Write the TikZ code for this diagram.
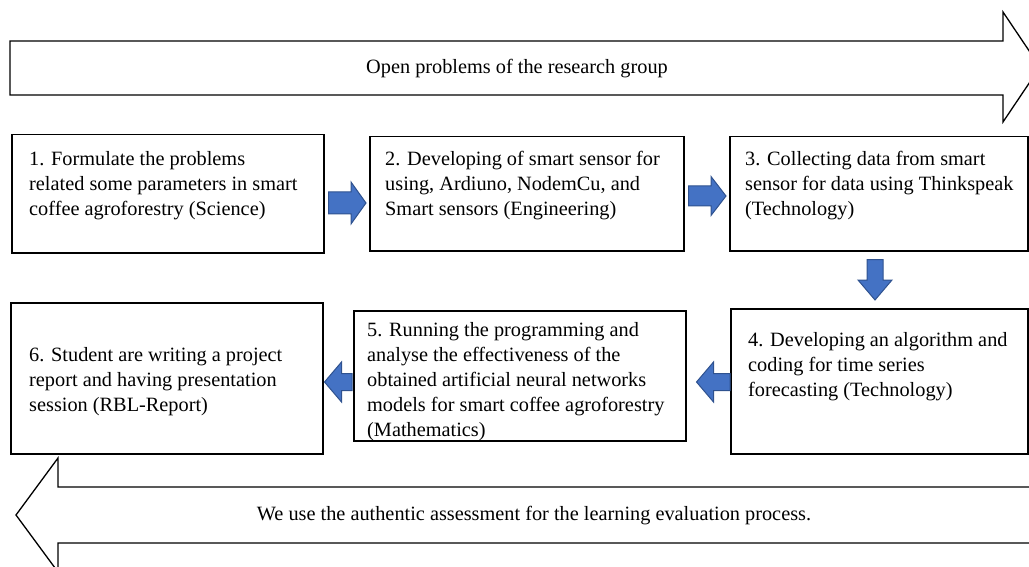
\documentclass[tikz,border=0pt]{standalone}
\usepackage{fontspec}
\setmainfont{Liberation Serif}
\usetikzlibrary{calc}

\definecolor{flowblue}{HTML}{4472C4}
\definecolor{flowedge}{HTML}{2F528F}

% horizontal block arrow: #1 tail point, #2 tip point, #3 signed head length,
% #4 body half-height, #5 head half-height
\newcommand{\hblock}[5]{%
  \path[blockarrow] let \p1=(#1), \p2=(#2) in
    (\x1,{\y1+#4}) -- ({\x2-(#3)},{\y1+#4}) -- ({\x2-(#3)},{\y1+#5}) --
    (\x2,\y1) -- ({\x2-(#3)},{\y1-#5}) -- ({\x2-(#3)},{\y1-#4}) --
    (\x1,{\y1-#4}) -- cycle;}
% vertical block arrow pointing down
\newcommand{\vblock}[5]{%
  \path[blockarrow] let \p1=(#1), \p2=(#2) in
    ({\x1-#4},\y1) -- ({\x1-#4},{\y2+#3}) -- ({\x1-#5},{\y2+#3}) --
    (\x1,\y2) -- ({\x1+#5},{\y2+#3}) -- ({\x1+#4},{\y2+#3}) --
    ({\x1+#4},\y1) -- cycle;}

\newcommand{\firstline}{\rule{0pt}{15pt}}

\begin{document}
\begin{tikzpicture}[x=1pt,y=-1pt,
  stagebox/.style={draw=black, line width=1.5pt, fill=white, rectangle,
    inner sep=0pt, anchor=north west},
  stagetext/.style={inner sep=0pt, anchor=north west, align=left,
    font=\fontsize{20.3}{25}\selectfont},
  bandtext/.style={inner sep=0pt, font=\fontsize{20.3}{25}\selectfont},
  band/.style={draw=black, line width=1.3pt, fill=white, line join=miter},
  blockarrow/.style={draw=flowedge, line width=1pt, fill=flowblue, line join=miter}]

\useasboundingbox (0,0) rectangle (1029,567);
\clip (0,0) rectangle (1029,567);

% wide outlined arrows framing the process
\path[band] (10,41) -- (1003,41) -- (1003,12) -- (1040,67) -- (1003,122)
  -- (1003,95) -- (10,95) -- cycle;
\node[bandtext] (open) at (517,69) {Open problems of the research group};

\path[band] (1045,487) -- (58,487) -- (58,458) -- (16,515) -- (58,572)
  -- (58,543) -- (1045,543) -- cycle;
\node[bandtext] (assess) at (534,516)
  {We use the authentic assessment for the learning evaluation process.};

% stage boxes
\node[stagebox, minimum width=312pt, minimum height=118pt] (b1) at (11,134) {};
\node[stagebox, minimum width=314pt, minimum height=114pt] (b2) at (369,136) {};
\node[stagebox, minimum width=298pt, minimum height=114pt] (b3) at (729,136) {};
\node[stagebox, minimum width=297pt, minimum height=145pt] (b4) at (730,308) {};
\node[stagebox, minimum width=332pt, minimum height=130pt] (b5) at (353,310) {};
\node[stagebox, minimum width=312pt, minimum height=151pt] (b6) at (10,302) {};

% stage descriptions
\node[stagetext] (t1) at ($(b1.north west)+(18,16)$)
  {\firstline 1. Formulate the problems\\related some parameters in smart\\coffee agroforestry (Science)};
\node[stagetext] (t2) at ($(b2.north west)+(16,14)$)
  {\firstline 2. Developing of smart sensor for\\using, Ardiuno, NodemCu, and\\Smart sensors (Engineering)};
\node[stagetext] (t3) at ($(b3.north west)+(16,14)$)
  {\firstline 3. Collecting data from smart\\sensor for data using Thinkspeak\\(Technology)};
\node[stagetext] (t4) at ($(b4.north west)+(18,23)$)
  {\firstline 4. Developing an algorithm and\\coding for time series\\forecasting (Technology)};
\node[stagetext] (t5) at ($(b5.north west)+(14,11)$)
  {\firstline 5. Running the programming and\\analyse the effectiveness of the\\obtained artificial neural networks\\models for smart coffee agroforestry\\(Mathematics)};
\node[stagetext] (t6) at ($(b6.north west)+(19,44)$)
  {\firstline 6. Student are writing a project\\report and having presentation\\session (RBL-Report)};

% connector end points between the stages
\coordinate (s12) at ($(b1.north east)+(4,69)$);
\coordinate (e12) at ($(b2.north west)+(-3,67)$);
\coordinate (s23) at ($(b2.north east)+(4,60)$);
\coordinate (e23) at ($(b3.north west)+(-3,60)$);
\coordinate (s34) at ($(b3.south west)+(146,8)$);
\coordinate (e34) at ($(b4.north west)+(145,-8)$);
\coordinate (s45) at ($(b4.north west)+(0,74)$);
\coordinate (e45) at ($(b5.north east)+(10,72)$);
\coordinate (s56) at ($(b5.north west)+(-1,72)$);
\coordinate (e56) at ($(b6.north east)+(1,80)$);

% blue flow arrows
\hblock{s12}{e12}{15pt}{11pt}{21pt}
\hblock{s23}{e23}{15pt}{10pt}{19.5pt}
\vblock{s34}{e34}{20pt}{8pt}{17pt}
\hblock{s45}{e45}{-17pt}{8.5pt}{20pt}
\hblock{s56}{e56}{-17pt}{8.5pt}{20pt}

\end{tikzpicture}
\end{document}
